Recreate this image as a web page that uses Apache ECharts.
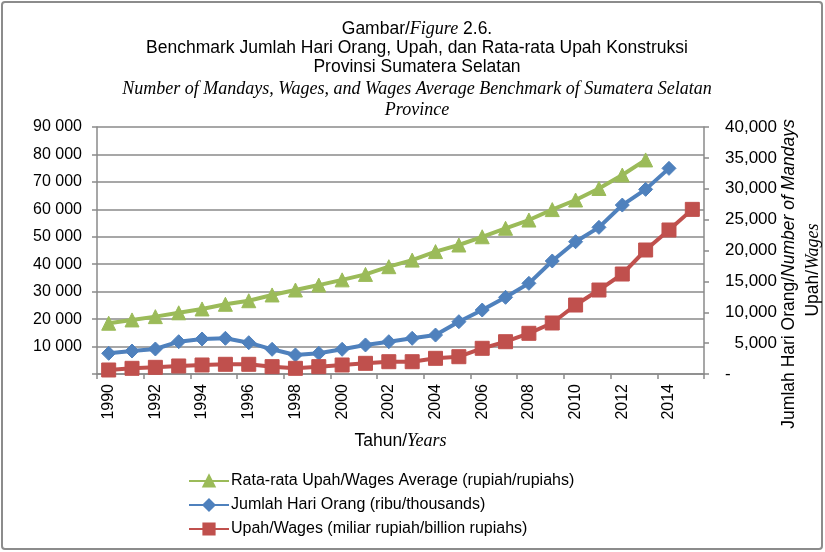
<!DOCTYPE html>
<html>
<head>
<meta charset="utf-8">
<script src="https://cdn.jsdelivr.net/npm/echarts@6/dist/echarts.min.js"></script>
<style>
  html, body { margin: 0; padding: 0; background: #fff; }
  #chart { width: 825px; height: 552px; }
</style>
</head>
<body>
<div id="chart"></div>
<script>
// Years on the category axis
const years = ['1990','1991','1992','1993','1994','1995','1996','1997','1998','1999',
               '2000','2001','2002','2003','2004','2005','2006','2007','2008','2009',
               '2010','2011','2012','2013','2014','2015'];

// Rata-rata Upah (rupiah) — left axis, 1990–2013
const wageAverage = [18500, 19700, 20900, 22300, 23700, 25400, 26700, 28800, 30600, 32400,
                     34300, 36300, 39100, 41500, 44600, 47000, 50000, 53100, 56100, 59900,
                     63400, 67600, 72500, 78000];

// Jumlah Hari Orang (ribu) — right axis, 1990–2014
const mandays = [3350, 3720, 4050, 5230, 5670, 5780, 5070, 4000, 3080, 3350,
                 4000, 4700, 5230, 5780, 6310, 8470, 10360, 12420, 14680, 18300,
                 21420, 23750, 27360, 29900, 33300];

// Upah (miliar rupiah) — right axis, 1990–2015
const wages = [650, 920, 1080, 1300, 1460, 1570, 1570, 1190, 920, 1190,
               1460, 1730, 1990, 1990, 2540, 2800, 4160, 5230, 6590, 8260,
               11170, 13600, 16190, 20080, 23320, 26660];

const seriesNames = [
  'Rata-rata Upah/Wages Average (rupiah/rupiahs)',
  'Jumlah Hari Orang (ribu/thousands)',
  'Upah/Wages (miliar rupiah/billion rupiahs)'
];

const SANS = '"Liberation Sans", Arial, sans-serif';
const SERIF = '"Liberation Serif", "Times New Roman", serif';
const GRID_GRAY = '#8a8a8a';

const chart = echarts.init(document.getElementById('chart'), null, { renderer: 'canvas' });

function lineSeries(name, data, color, symbol, size, yIndex) {
  return {
    name: name,
    type: 'line',
    yAxisIndex: yIndex,
    data: data,
    symbol: symbol,
    symbolSize: size,
    showAllSymbol: true,
    lineStyle: { color: color, width: 4 },
    itemStyle: { color: color, borderColor: color, borderWidth: 1 },
    emphasis: { disabled: true },
    animation: false
  };
}

const titleLines = [
  { y: 29, text: 'Gambar/{i|Figure} 2.6.', size: 17.5, family: SANS, style: 'normal' },
  { y: 48, text: 'Benchmark Jumlah Hari Orang, Upah, dan Rata-rata Upah Konstruksi', size: 17.5, family: SANS, style: 'normal' },
  { y: 67, text: 'Provinsi Sumatera Selatan', size: 17.5, family: SANS, style: 'normal' },
  { y: 89, text: 'Number of Mandays, Wages, and Wages Average Benchmark of Sumatera Selatan', size: 18, family: SERIF, style: 'italic' },
  { y: 110, text: 'Province', size: 18, family: SERIF, style: 'italic' }
];

const graphics = [
  {
    type: 'rect',
    shape: { x: 2, y: 2, width: 820, height: 547, r: 3 },
    style: { fill: 'none', stroke: '#8c8c8c', lineWidth: 2 },
    silent: true
  }
];

titleLines.forEach(function (t) {
  graphics.push({
    type: 'text',
    x: 417, y: t.y,
    silent: true,
    style: {
      text: t.text,
      fill: '#000',
      fontSize: t.size,
      fontFamily: t.family,
      fontStyle: t.style,
      align: 'center',
      verticalAlign: 'middle',
      rich: { i: { fontFamily: SERIF, fontStyle: 'italic', fontSize: 18, fill: '#000' } }
    }
  });
});

// Right axis title, two rotated lines
graphics.push({
  type: 'text',
  x: 789, y: 274,
  rotation: Math.PI / 2,
  silent: true,
  style: {
    text: 'Jumlah Hari Orang/{i|Number of Mandays}',
    fill: '#000', fontSize: 17.5, fontFamily: SANS,
    align: 'center', verticalAlign: 'middle',
    rich: { i: { fontFamily: SANS, fontStyle: 'italic', fontSize: 17.5, fill: '#000' } }
  }
});
graphics.push({
  type: 'text',
  x: 813, y: 270,
  rotation: Math.PI / 2,
  silent: true,
  style: {
    text: 'Upah/{s|Wages}',
    fill: '#000', fontSize: 17.5, fontFamily: SANS,
    align: 'center', verticalAlign: 'middle',
    rich: { s: { fontFamily: SERIF, fontStyle: 'italic', fontSize: 18, fill: '#000' } }
  }
});

const option = {
  backgroundColor: '#fff',
  animation: false,
  textStyle: { fontFamily: SANS, color: '#000' },
  grid: { left: 97, right: 121, top: 127, bottom: 178, containLabel: false },
  legend: {
    orient: 'vertical',
    left: 183,
    top: 468,
    itemWidth: 40,
    itemHeight: 14,
    itemGap: 8,
    selectedMode: false,
    textStyle: { fontFamily: SANS, fontSize: 16, color: '#000', padding: [0, 0, 0, -3] },
    data: seriesNames
  },
  xAxis: {
    type: 'category',
    data: years,
    boundaryGap: true,
    name: 'Tahun/{i|Years}',
    nameLocation: 'middle',
    nameGap: 58,
    nameTextStyle: {
      fontFamily: SANS, fontSize: 17.5, color: '#000',
      rich: { i: { fontFamily: SERIF, fontStyle: 'italic', fontSize: 18, color: '#000' } }
    },
    axisLine: { show: true, lineStyle: { color: GRID_GRAY, width: 1.5 } },
    axisTick: { show: true, interval: 1, length: 5, lineStyle: { color: GRID_GRAY, width: 1.5 } },
    axisLabel: {
      interval: 1, rotate: 90, margin: 10,
      fontFamily: SANS, fontSize: 16, color: '#000'
    },
    splitLine: { show: false }
  },
  yAxis: [
    {
      type: 'value',
      min: 0, max: 90000, interval: 10000,
      position: 'left',
      axisLine: { show: true, lineStyle: { color: GRID_GRAY, width: 1.5 } },
      axisTick: { show: true, length: 5, lineStyle: { color: GRID_GRAY, width: 1.5 } },
      axisLabel: {
        margin: 15, fontFamily: SANS, fontSize: 16, color: '#000',
        formatter: function (v) { return v === 0 ? '' : (v / 1000) + ' 000'; }
      },
      splitLine: { show: true, lineStyle: { color: GRID_GRAY, width: 1.5 } }
    },
    {
      type: 'value',
      min: 0, max: 40000, interval: 5000,
      position: 'right',
      axisLine: { show: true, lineStyle: { color: GRID_GRAY, width: 1.5 } },
      axisTick: { show: true, length: 5, lineStyle: { color: GRID_GRAY, width: 1.5 } },
      axisLabel: {
        margin: 73, align: 'right', fontFamily: SANS, fontSize: 17, color: '#000',
        formatter: function (v) { return v === 0 ? '{d|-}' : v.toLocaleString('en-US'); },
        rich: { d: { width: 52, align: 'left', fontFamily: SANS, fontSize: 17, color: '#000' } }
      },
      splitLine: { show: false }
    }
  ],
  series: [
    lineSeries(seriesNames[0], wageAverage, '#9BBB59', 'triangle', 14, 0),
    lineSeries(seriesNames[1], mandays, '#4F81BD', 'diamond', 14, 1),
    lineSeries(seriesNames[2], wages, '#C0504D', 'rect', 14, 1)
  ],
  graphic: graphics
};

chart.setOption(option);
</script>
</body>
</html>
